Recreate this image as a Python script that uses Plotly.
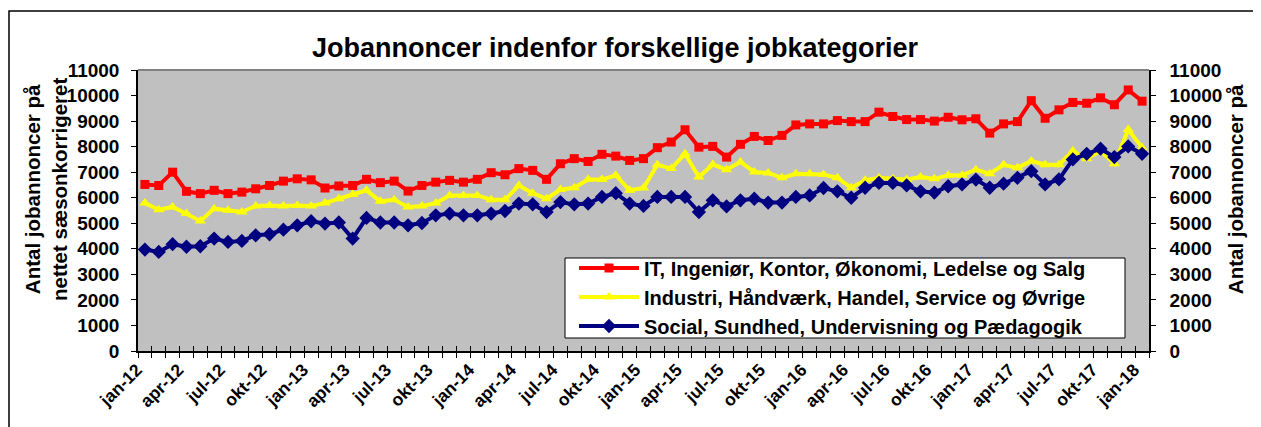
import plotly.graph_objects as go
import numpy as np

month_names = ["jan", "feb", "mar", "apr", "maj", "jun", "jul", "aug", "sep", "okt", "nov", "dec"]
years = ["12", "13", "14", "15", "16", "17"]
months = [f"{m}-{y}" for y in years for m in month_names] + ["jan-18"]

it_ing = [6520, 6480, 7000, 6250, 6160, 6290, 6160, 6220, 6350, 6480, 6650, 6740, 6700, 6380, 6460, 6480, 6720, 6590,
          6650, 6260, 6480, 6610, 6680, 6610, 6720, 6980, 6900, 7140, 7070, 6720, 7330, 7530, 7420, 7700, 7630, 7460,
          7530, 7960, 8180, 8660, 7980, 8010, 7590, 8090, 8400, 8240, 8440, 8850, 8890, 8890, 9020, 8980, 8980, 9350,
          9180, 9060, 9060, 9000, 9150, 9050, 9090, 8530, 8890, 8980, 9800, 9110, 9440, 9730, 9700, 9910, 9640, 10220, 9780]

industri = [5790, 5530, 5640, 5380, 5090, 5570, 5510, 5440, 5680, 5700, 5680, 5700, 5680, 5790, 5960, 6130, 6290, 5860,
            5920, 5640, 5680, 5790, 6090, 6090, 6090, 5920, 5920, 6480, 6180, 5960, 6320, 6390, 6710, 6710, 6880, 6290,
            6380, 7290, 7140, 7720, 6810, 7300, 7100, 7400, 7010, 6970, 6780, 6940, 6940, 6910, 6780, 6390, 6680, 6780,
            6740, 6710, 6810, 6740, 6880, 6880, 7100, 6940, 7290, 7170, 7440, 7290, 7290, 7830, 7530, 7830, 7330, 8670, 7960]

social = [3970, 3880, 4180, 4080, 4100, 4400, 4270, 4310, 4530, 4570, 4750, 4920, 5080, 4990, 5030, 4400, 5210, 5030,
          5030, 4920, 5010, 5310, 5380, 5310, 5310, 5380, 5480, 5770, 5740, 5440, 5830, 5740, 5770, 6030, 6180, 5770,
          5680, 6030, 6030, 6030, 5440, 5900, 5660, 5900, 5960, 5810, 5810, 6030, 6090, 6380, 6250, 6000, 6390, 6580,
          6580, 6480, 6250, 6200, 6450, 6520, 6710, 6390, 6550, 6780, 7040, 6520, 6720, 7500, 7720, 7920, 7590, 8010, 7720]

series_names = ["IT, Ingeniør, Kontor, Økonomi, Ledelse og Salg",
                "Industri, Håndværk, Handel, Service og Øvrige",
                "Social, Sundhed, Undervisning og Pædagogik"]

title_text = "Jobannoncer indenfor forskellige jobkategorier"
ytitle = "Antal jobannoncer på<br>nettet sæsonkorrigeret"

FONT = "Arial, 'Liberation Sans', sans-serif"
x = np.arange(len(months))
n = len(months)
boundaries = list(np.arange(-0.5, n, 1.0))

# figure is rendered at an 8px page offset; work in figure pixels
W, H = 1253, 419
PL, PR, PT, PB = 130, 1141, 62, 343
PW, PH = PR - PL, PB - PT

def px(xf):
    return (xf - PL) / PW

def py(yf):
    return (PB - yf) / PH

fig = go.Figure()
fig.add_trace(go.Scatter(x=x, y=it_ing, name=series_names[0], mode="lines+markers",
                         line=dict(color="#FF0000", width=4),
                         marker=dict(symbol="square", size=9, color="#FF0000")))
fig.add_trace(go.Scatter(x=x, y=industri, name=series_names[1], mode="lines+markers",
                         line=dict(color="#FFFF00", width=4),
                         marker=dict(symbol="triangle-up", size=10, color="#FFFF00")))
fig.add_trace(go.Scatter(x=x, y=social, name=series_names[2], mode="lines+markers",
                         xaxis="x2", yaxis="y2",
                         line=dict(color="#000080", width=4),
                         marker=dict(symbol="diamond", size=11, color="#000080")))

axis_font = dict(family=FONT, size=19, color="black", weight="bold")

fig.update_layout(
    width=W, height=H,
    margin=dict(l=PL, r=W - PR, t=PT, b=H - PB, autoexpand=False),
    paper_bgcolor="white",
    plot_bgcolor="#C0C0C0",
    font=dict(family=FONT, color="black"),
    title=dict(text=f"<b>{title_text}</b>", x=607 / W, xanchor="center",
               y=1 - 40 / H, yanchor="middle",
               font=dict(family=FONT, size=27, color="black")),
    showlegend=True,
    legend=dict(x=px(566), xanchor="left", y=py(289), yanchor="middle",
                bgcolor="rgba(0,0,0,0)", borderwidth=0,
                font=dict(family=FONT, size=20, color="black", weight="bold"),
                tracegroupgap=0, itemwidth=60),
    xaxis=dict(range=[-0.5, n - 0.5], tickmode="array", tickvals=list(x[::3]),
               ticktext=months[::3], tickangle=-45, ticks="", automargin=False,
               ticklabelshift=-8,
               tickfont=dict(family=FONT, size=17.5, color="black", weight="bold"),
               showgrid=False, zeroline=False, showline=True, linecolor="black", linewidth=1.5,
               minor=dict(tickmode="array", tickvals=boundaries, ticks="outside", ticklen=5,
                          tickcolor="black", tickwidth=1, showgrid=False)),
    xaxis2=dict(range=[-0.5, n - 0.5], overlaying="x", anchor="y2", side="bottom",
                tickmode="array", tickvals=boundaries, ticks="inside", ticklen=5,
                tickcolor="black", tickwidth=1, showticklabels=False, automargin=False,
                showgrid=False, zeroline=False, showline=False),
    yaxis=dict(range=[0, 11000], dtick=1000, tick0=0, tickformat="d", ticks="outside", ticklen=5,
               tickcolor="black", tickfont=axis_font, ticklabelstandoff=8, automargin=False,
               showgrid=False, zeroline=False, showline=True, linecolor="black", linewidth=1.5),
    yaxis2=dict(range=[0, 11000], dtick=1000, tick0=0, tickformat="d", overlaying="y", side="right",
                anchor="x2", ticks="outside", ticklen=5, tickcolor="black", automargin=False,
                tickfont=axis_font, ticklabelstandoff=10,
                showgrid=False, zeroline=False, showline=True, linecolor="black", linewidth=1.5),
)

# y-axis titles (left and right)
for xf in [38, 1241]:
    fig.add_annotation(text=f"<b>{ytitle}</b>", xref="paper", yref="paper",
                       x=px(xf), y=py(182), xanchor="center", yanchor="middle",
                       textangle=-90, showarrow=False,
                       font=dict(family=FONT, size=20.5, color="black"))

# legend frame (white box with black border)
fig.add_shape(type="rect", xref="paper", yref="paper",
              x0=px(557), x1=px(1117), y0=py(330), y1=py(250),
              line=dict(color="black", width=1), fillcolor="white", layer="above")

# top border of plot area (grey) and outer chart frame (left and top edges)
fig.add_shape(type="line", xref="paper", yref="paper", x0=0, x1=1, y0=1, y1=1,
              line=dict(color="#808080", width=2))
fig.add_shape(type="path", xref="paper", yref="paper",
              path=f"M {px(1)} {py(600)} L {px(1)} {py(3)} L {px(1400)} {py(3)}",
              line=dict(color="black", width=1.5), layer="below")

fig.write_html("out.html", config={"displayModeBar": False})
